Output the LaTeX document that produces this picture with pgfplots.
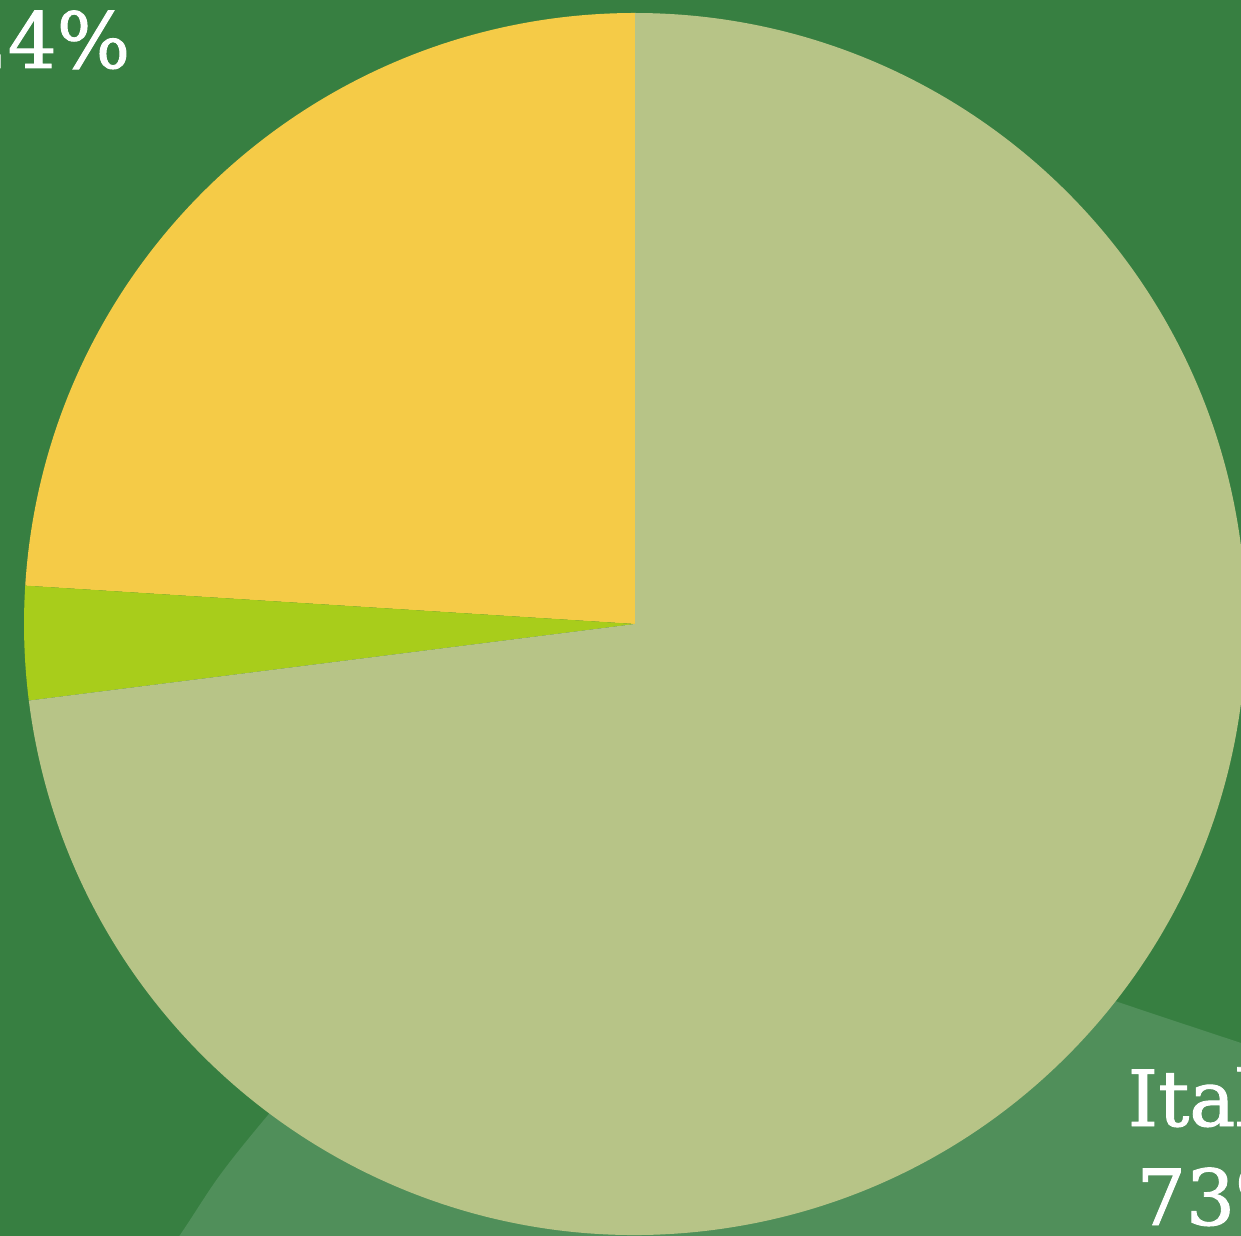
\documentclass[border=0pt]{standalone}
\usepackage{pgfplots}
\pgfplotsset{compat=1.18}
\usepackage{fontspec}
\setmainfont{DejaVu Serif}[FakeBold=1.2]
\definecolor{bgdark}{HTML}{377F41}
\definecolor{bglight}{HTML}{508F5A}
\definecolor{pielight}{HTML}{B7C487}
\definecolor{pieyellow}{HTML}{F5CB47}
\definecolor{pielime}{HTML}{A8CD1B}
\begin{document}
\begin{tikzpicture}
\path[use as bounding box] (0,0) rectangle (12.41cm,12.35cm);
\fill[bgdark] (-0.1cm,-0.1cm) rectangle (12.51cm,12.45cm);
\begin{axis}[
  at={(0,0)}, anchor=south west,
  width=12.41cm, height=12.35cm, scale only axis,
  xmin=0, xmax=1241, ymin=0, ymax=1235,
  axis lines=none, ticks=none, clip=true,
  enlargelimits=false,
]
% background
\addplot[fill=bgdark, draw=none] coordinates {(-60,-60) (1300,-60) (1300,1300) (-60,1300)} -- cycle;
% lighter backdrop shape (partly hidden behind the pie)
\fill[bglight] plot[smooth, tension=0.55] coordinates {(147,-45) (180,0) (220,60) (268,120) (340,204) (500,260) (750,295) (980,281) (1118,233) (1241,192) (1300,172)}
  -- (1320,-120) -- (120,-120) -- cycle;
% pie slices: values 24, 3, 73 (percent), starting at 90 deg, counterclockwise
\fill[pieyellow] (axis cs:635,611) -- ++(90:6.11cm) arc[start angle=90, end angle={90+24*3.6}, radius=6.11cm] -- cycle;
\fill[pielime] (axis cs:635,611) -- ++({90+24*3.6}:6.11cm) arc[start angle={90+24*3.6}, end angle={90+27*3.6}, radius=6.11cm] -- cycle;
\fill[pielight] (axis cs:635,611) -- ++({90+27*3.6}:6.11cm) arc[start angle={90+27*3.6}, end angle={90+100*3.6}, radius=6.11cm] -- cycle;
% labels
\node[anchor=base east, text=white, inner sep=0pt, font=\fontsize{22}{28}\selectfont] at (axis cs:131,1167) {24\%};
\node[anchor=base west, text=white, inner sep=0pt, font=\fontsize{22}{28}\selectfont] at (axis cs:1127,109) {Italy};
\node[anchor=base west, text=white, inner sep=0pt, font=\fontsize{22}{28}\selectfont] at (axis cs:1136,10) {73\%};
\end{axis}
\end{tikzpicture}
\end{document}
